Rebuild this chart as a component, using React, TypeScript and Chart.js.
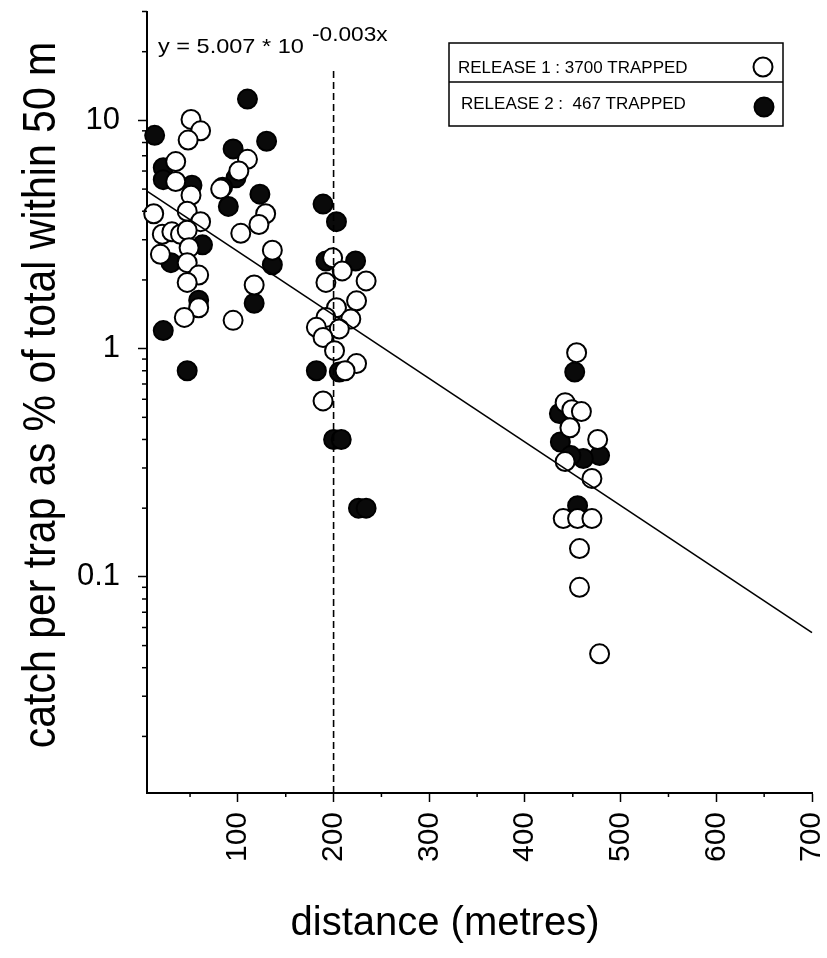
import React, { useEffect, useRef } from "react";
import { Chart, registerables } from "chart.js";

Chart.register(...registerables);

// ---------- data ----------
const release1X = [
  51, 61, 48, 35, 35, 51, 12, 47, 61, 21, 31, 40, 47, 19, 49, 47, 59, 47, 59, 44,
  110, 101, 82, 129, 122, 103, 136, 117, 95,
  199, 209, 192, 234, 224, 203, 218, 192, 182, 206, 189, 201, 224, 212, 189,
  454, 442, 449, 459, 447, 476, 442, 470, 440, 455, 470, 457, 457, 478,
];
const release1Y = [
  10.1, 9.0, 8.2, 6.6, 5.4, 4.7, 3.9, 4.0, 3.6, 3.17, 3.25, 3.17, 3.3, 2.59, 2.77, 2.38, 2.1, 1.95, 1.51, 1.37,
  6.75, 6.0, 5.0, 3.9, 3.5, 3.2, 2.7, 1.9, 1.33,
  2.5, 2.19, 1.95, 1.98, 1.62, 1.51, 1.35, 1.37, 1.24, 1.22, 1.12, 0.98, 0.86, 0.8, 0.59,
  0.96, 0.58, 0.54, 0.53, 0.45, 0.4, 0.32, 0.27, 0.18, 0.18, 0.18, 0.133, 0.09, 0.046,
];
const release2X = [
  13, 22, 22, 52, 63, 30, 59, 22, 47,
  110, 130, 95, 98, 84, 90, 123, 136, 117,
  189, 203, 192, 223, 182, 206, 200, 208, 226, 234,
  452, 436, 437, 478, 461, 455, 448,
];
const release2Y = [
  8.6, 6.2, 5.5, 5.2, 2.85, 2.38, 1.63, 1.2, 0.8,
  12.4, 8.1, 7.5, 5.6, 5.1, 4.2, 4.75, 2.33, 1.58,
  4.3, 3.6, 2.42, 2.42, 0.8, 0.79, 0.4, 0.4, 0.2, 0.2,
  0.79, 0.52, 0.39, 0.34, 0.33, 0.205, 0.34,
];
const fitX = [5, 700];
const fitY = [4.9, 0.057];
const thresholdX = [200, 200];
const thresholdY = [0.0113, 17];

const xMajorTicks = [100, 200, 300, 400, 500, 600, 700];
const xMinorTicks = [50, 150, 250, 350, 450, 550, 650];
const yMajorTicks = [0.1, 1, 10];
const yMinorTicks = [
  0.02, 0.03, 0.04, 0.05, 0.06, 0.07, 0.08, 0.09,
  0.2, 0.3, 0.4, 0.5, 0.6, 0.7, 0.8, 0.9,
  2, 3, 4, 5, 6, 7, 8, 9, 20, 30,
];

const legendLabels = ["RELEASE 1 : 3700 TRAPPED", "RELEASE 2 :  467 TRAPPED"];
const equationMain = "y = 5.007 * 10";
const equationExp = "-0.003x";
const xTitle = "distance (metres)";
const yTitle = "catch per trap as % of total within 50 m";

const FONT = '"Liberation Sans", Arial, sans-serif';

const toPoints = (xs: number[], ys: number[]) => xs.map((x, i) => ({ x, y: ys[i] }));

const decorPlugin = {
  id: "decor",
  afterDraw(chart: any) {
    const { ctx, chartArea: a, scales } = chart;
    const x = scales.x;
    const y = scales.y;
    ctx.save();
    ctx.strokeStyle = "#000";
    ctx.fillStyle = "#000";
    ctx.lineWidth = 1.5;
    // minor ticks
    xMinorTicks.forEach((v) => {
      const px = x.getPixelForValue(v);
      ctx.beginPath();
      ctx.moveTo(px, a.bottom);
      ctx.lineTo(px, a.bottom + 4);
      ctx.stroke();
    });
    yMinorTicks.forEach((v) => {
      const py = y.getPixelForValue(v);
      ctx.beginPath();
      ctx.moveTo(a.left, py);
      ctx.lineTo(a.left - 5, py);
      ctx.stroke();
    });

    // axis titles
    ctx.textAlign = "center";
    ctx.textBaseline = "alphabetic";
    ctx.font = `40px ${FONT}`;
    ctx.fillText(xTitle, 445, 935);
    ctx.save();
    ctx.translate(55, 395);
    ctx.rotate(-Math.PI / 2);
    ctx.scale(1, 1.12);
    ctx.font = `41px ${FONT}`;
    ctx.fillText(yTitle, 0, 0);
    ctx.restore();

    // equation
    ctx.textAlign = "left";
    ctx.font = `21px ${FONT}`;
    ctx.save();
    ctx.translate(158, 53);
    ctx.scale(1.12, 1);
    ctx.fillText(equationMain, 0, 0);
    ctx.restore();
    ctx.save();
    ctx.translate(312, 41);
    ctx.scale(1.08, 1);
    ctx.fillText(equationExp, 0, 0);
    ctx.restore();

    // legend
    ctx.lineWidth = 1.5;
    ctx.strokeRect(449, 43, 334, 83);
    ctx.beginPath();
    ctx.moveTo(449, 82);
    ctx.lineTo(783, 82);
    ctx.stroke();
    ctx.font = `17px ${FONT}`;
    ctx.textBaseline = "middle";
    ctx.fillText(legendLabels[0], 458, 68);
    ctx.fillText(legendLabels[1], 461, 104);
    // legend markers
    ctx.lineWidth = 2;
    ctx.beginPath();
    ctx.arc(763, 67, 9.5, 0, Math.PI * 2);
    ctx.fillStyle = "#fff";
    ctx.fill();
    ctx.stroke();
    ctx.beginPath();
    ctx.arc(764, 107, 9.5, 0, Math.PI * 2);
    ctx.fillStyle = "#0a0a0a";
    ctx.fill();
    ctx.stroke();
    ctx.restore();
  },
};

export default function App() {
  const ref = useRef<HTMLCanvasElement | null>(null);
  useEffect(() => {
    if (!ref.current) return;
    const chart = new Chart(ref.current, {
      type: "scatter",
      data: {
        datasets: [
          {
            data: toPoints(fitX, fitY),
            showLine: true,
            borderColor: "#000",
            borderWidth: 1.6,
            pointRadius: 0,
            order: 0,
            clip: false,
          } as any,
          {
            data: toPoints(thresholdX, thresholdY),
            showLine: true,
            borderColor: "#000",
            borderWidth: 1.6,
            borderDash: [7, 4],
            pointRadius: 0,
            order: 0,
          } as any,
          {
            data: toPoints(release1X, release1Y),
            backgroundColor: "#ffffff",
            borderColor: "#000",
            borderWidth: 2,
            pointRadius: 9.5,
            order: 1,
            clip: false,
          } as any,
          {
            data: toPoints(release2X, release2Y),
            backgroundColor: "#0a0a0a",
            borderColor: "#000",
            borderWidth: 2,
            pointRadius: 9.5,
            order: 2,
            clip: false,
          } as any,
        ],
      },
      options: {
        responsive: false,
        animation: false,
        devicePixelRatio: 1,
        layout: { padding: { top: 11, right: 15, left: 0, bottom: 0 } },
        plugins: { legend: { display: false }, tooltip: { enabled: false } },
        scales: {
          x: {
            type: "linear",
            min: 5,
            max: 700,
            afterBuildTicks: (s: any) => {
              s.ticks = xMajorTicks.map((v) => ({ value: v }));
            },
            afterFit: (s: any) => {
              s.height = 165;
              s.paddingLeft = 0;
              s.paddingRight = 0;
            },
            ticks: {
              autoSkip: false,
              minRotation: 90,
              maxRotation: 90,
              padding: 10,
              color: "#000",
              font: { family: FONT, size: 30 },
              callback: (v: any) => String(v),
            },
            grid: {
              display: true,
              drawOnChartArea: false,
              drawTicks: true,
              tickLength: 9,
              tickWidth: 1.5,
              tickColor: "#000",
            },
            border: { display: true, color: "#000", width: 2 },
          },
          y: {
            type: "logarithmic",
            min: 0.0113,
            max: 30,
            afterBuildTicks: (s: any) => {
              s.ticks = yMajorTicks.map((v) => ({ value: v }));
            },
            afterFit: (s: any) => {
              s.width = 147;
              s.paddingTop = 0;
              s.paddingBottom = 0;
            },
            ticks: {
              autoSkip: false,
              padding: 18,
              color: "#000",
              font: { family: FONT, size: 31 },
              callback: (v: any) => String(v),
            },
            grid: {
              display: true,
              drawOnChartArea: false,
              drawTicks: true,
              tickLength: 9,
              tickWidth: 1.5,
              tickColor: "#000",
            },
            border: { display: true, color: "#000", width: 2 },
          },
        },
      } as any,
      plugins: [decorPlugin],
    });
    return () => chart.destroy();
  }, []);

  return (
    <div style={{ position: "absolute", left: 0, top: 0, width: 827, height: 958, background: "#fff" }}>
      <canvas ref={ref} width={827} height={958} style={{ display: "block" }} />
    </div>
  );
}
